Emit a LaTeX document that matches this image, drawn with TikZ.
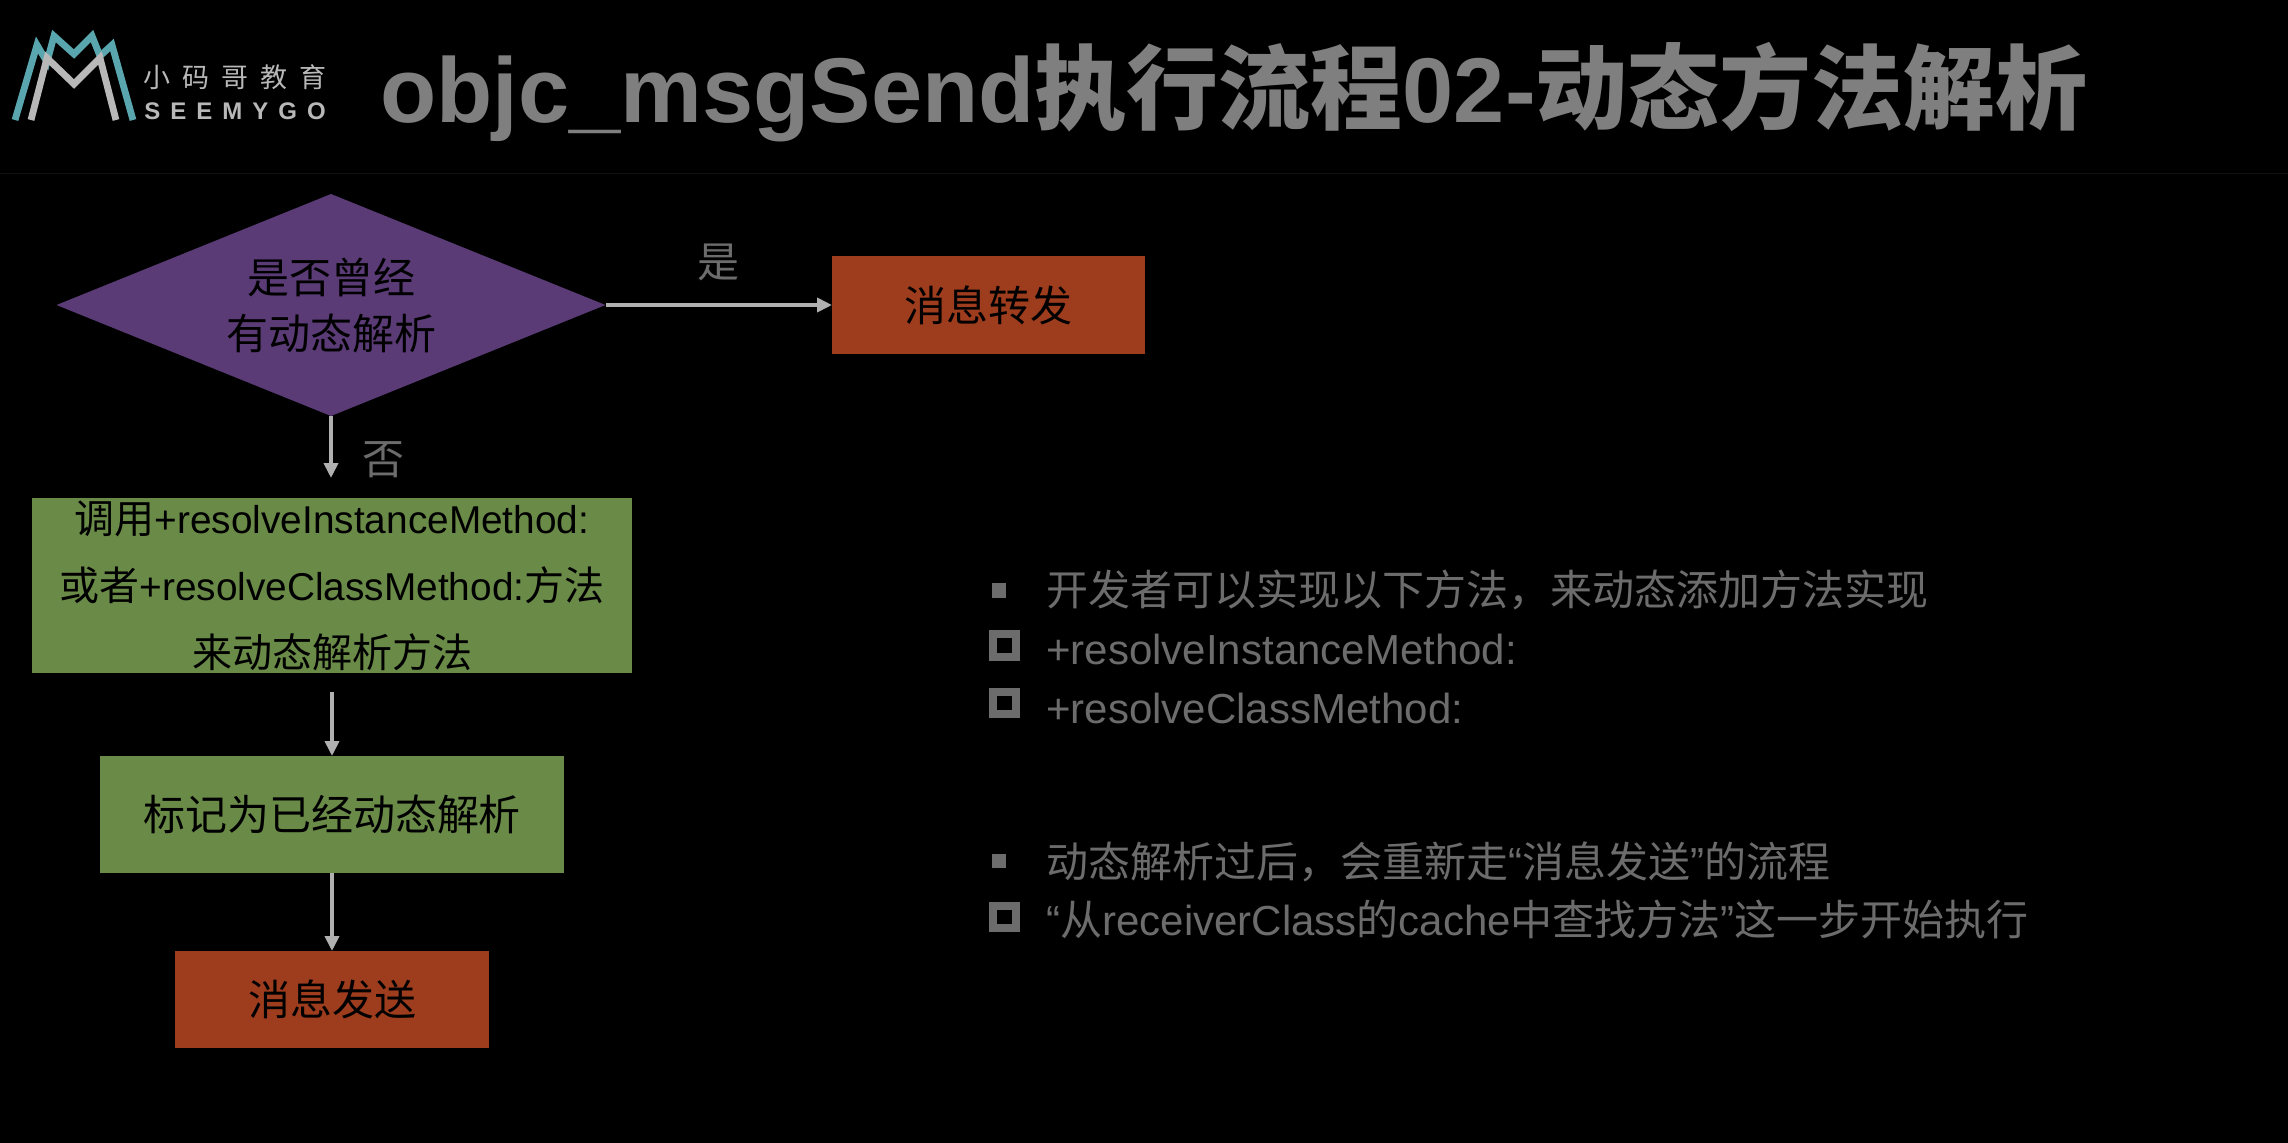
\documentclass[tikz,border=0pt]{standalone}
\usepackage{fontspec}
\usetikzlibrary{arrows.meta,shapes.geometric}
\setmainfont{Liberation Sans}
\newfontfamily\cjk{Noto Sans CJK SC}
\newcommand{\zh}[1]{{\cjk #1}}
\newcommand{\zhb}[1]{{\fontsize{20pt}{33.5pt}\selectfont\cjk #1}}
\definecolor{purp}{HTML}{5A3B76}
\definecolor{rust}{HTML}{9E3C1E}
\definecolor{grn}{HTML}{6A8A48}
\definecolor{linec}{HTML}{B0B0B0}
\definecolor{txtg}{HTML}{6C6C6C}
\definecolor{titleg}{HTML}{7F7F7F}
\definecolor{teal}{HTML}{5AA6AE}
\definecolor{logog}{HTML}{B8B8B8}
\tikzset{
 x=0.5pt,y=-0.5pt,
 boxn/.style={rectangle,inner sep=0,outer sep=0,font=\fontsize{21pt}{28pt}\selectfont,text=black,align=center},
 flow/.style={draw=linec,line width=2pt,-{Triangle[length=7.5pt,width=7pt,fill=linec]}},
 lab/.style={font=\fontsize{21pt}{25pt}\selectfont,text=txtg,inner sep=0},
 itemt/.style={font=\fontsize{21pt}{25pt}\selectfont,text=txtg,inner sep=0,anchor=west},
 blt/.style={fill=txtg},
 hblt/.style={draw=txtg,line width=4pt},
}
\begin{document}
\begin{tikzpicture}
\useasboundingbox (0,0) rectangle (2288,1142);
\fill[black] (-6,-6) rectangle (2294,1148);
\draw[color=black!93!white,line width=0.5pt] (0,173) -- (2288,173);
% logo
\draw[teal,line width=3.4pt,line join=miter,miter limit=3] (15,120) -- (37,45) -- (47,62) -- (54,36) -- (74,54) -- (92,36) -- (100,56) -- (112,45) -- (133,120);
\draw[logog,line width=3.4pt,line join=miter,miter limit=3] (31,120) -- (47,58) -- (74,84) -- (100,58) -- (116,120);
\node[inner sep=0,text=logog,font=\fontsize{13.5pt}{14pt}\selectfont\cjk] (logozh) at (235,77) {小\hspace{6pt}码\hspace{6pt}哥\hspace{6pt}教\hspace{6pt}育};
\node[inner sep=0,text=logog,font=\fontsize{12pt}{14pt}\selectfont\bfseries] (logoen) at (235,111.5) {S\hspace{5pt}E\hspace{5pt}E\hspace{5pt}M\hspace{5pt}Y\hspace{5pt}G\hspace{5pt}O};
% title
\node[inner sep=0,anchor=base west,text=titleg,font=\fontsize{46pt}{50pt}\selectfont\bfseries] (title) at (380,122) {objc\_msgSend\zh{执行流程}02-\zh{动态方法解析}};
% flow
\node[diamond,aspect=2.47,fill=purp,minimum width=274.5pt,minimum height=111pt,inner sep=0,outer sep=0] (q) at (331,305) {};
\node[boxn] (qt) at (331,305) {\zh{是否曾经}\\\zh{有动态解析}};
\node[boxn,fill=rust,minimum width=156.5pt,minimum height=49pt] (fwd) at (988.5,305) {\zh{消息转发}};
\node[boxn,fill=grn,minimum width=300pt,minimum height=87.5pt] (call) at (332,585.5) {};
\node[boxn,font=\fontsize{19.4pt}{33.5pt}\selectfont] (callt) at (332,586) {\zhb{调用}+resolveInstanceMethod:\\\zhb{或者}+resolveClassMethod:\zhb{方法}\\\zhb{来动态解析方法}};
\node[boxn,fill=grn,minimum width=232pt,minimum height=58.5pt] (mark) at (332,814.5) {\zh{标记为已经动态解析}};
\node[boxn,fill=rust,minimum width=157pt,minimum height=48.5pt] (send) at (332,999.5) {\zh{消息发送}};
\coordinate (noend) at (331,478);
\coordinate (m2) at (332,692);
\draw[flow] (q.east) -- (fwd.west);
\draw[flow] (q.south) -- (noend);
\draw[flow] (m2) -- (mark.north);
\draw[flow] (mark.south) -- (send.north);
\node[lab] (yes) at (718,262) {\zh{是}};
\node[lab] (no) at (383,460) {\zh{否}};
% right text
\fill[blt] (992,583) rectangle (1006,598);
\node[itemt] (t1) at (1046,589.5) {\zh{开发者可以实现以下方法，来动态添加方法实现}};
\draw[hblt] (993,634) rectangle (1016,657);
\node[itemt] (t2) at (1046,649) {+resolveInstanceMethod:};
\draw[hblt] (993,692) rectangle (1016,714);
\node[itemt] (t3) at (1046,708) {+resolveClassMethod:};
\fill[blt] (992,854) rectangle (1006,868);
\node[itemt] (t4) at (1046,861.5) {\zh{动态解析过后，会重新走}“\zh{消息发送}”\zh{的流程}};
\draw[hblt] (993,906) rectangle (1016,928);
\node[itemt] (t5) at (1046,919.5) {“\zh{从}receiverClass\zh{的}cache\zh{中查找方法}”\zh{这一步开始执行}};
\end{tikzpicture}
\end{document}
